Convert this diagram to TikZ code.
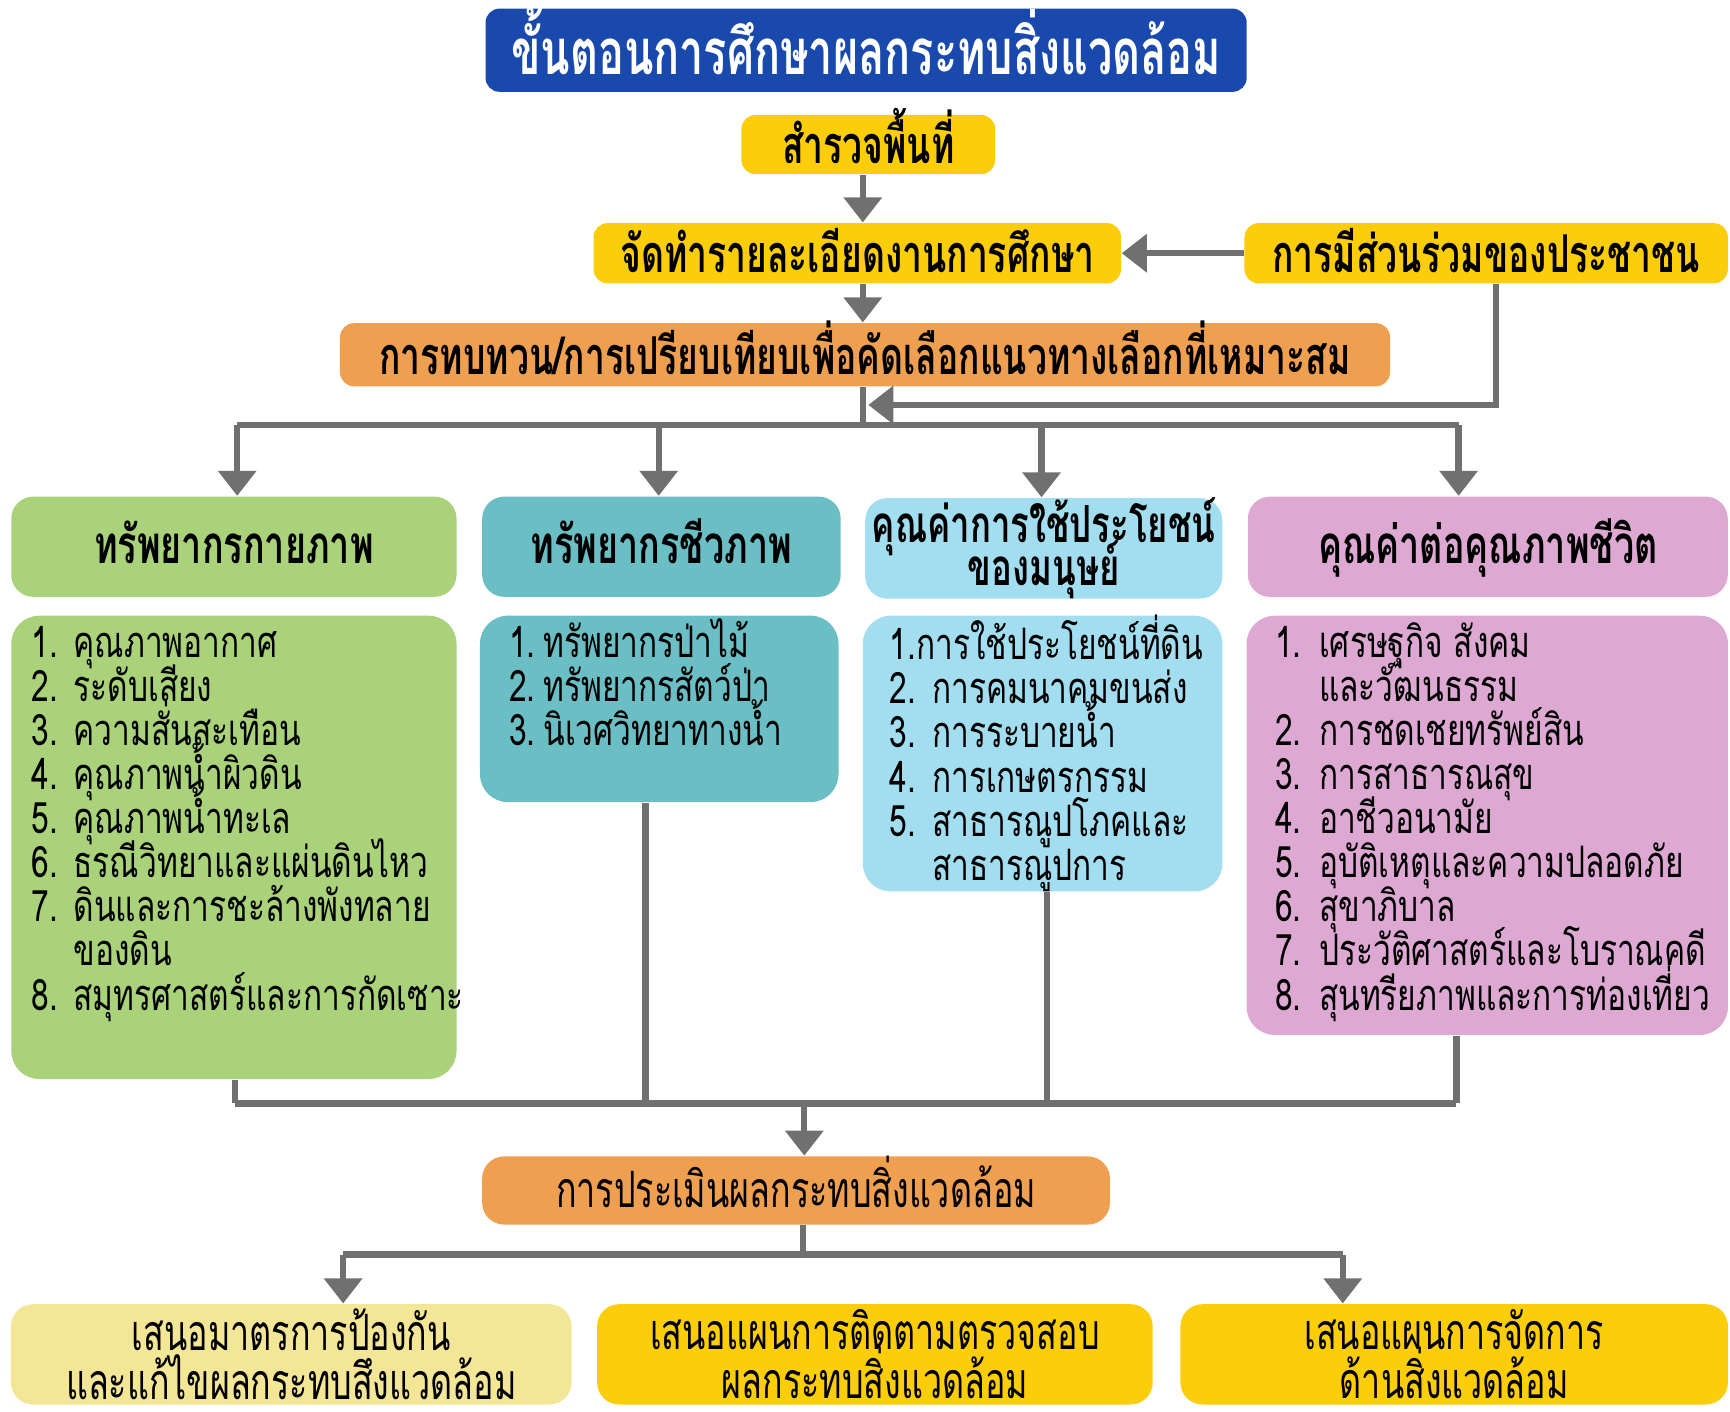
\documentclass[tikz,border=0pt]{standalone}
\usepackage{fontspec}
\setmainfont{Loma}[Script=Thai, FakeStretch=0.73]
\newfontfamily\narrowfont{Loma}[Script=Thai, FakeStretch=0.68]
\usepackage{xcolor}
\usetikzlibrary{arrows.meta}

\definecolor{titleblue}{HTML}{1A49AD}
\definecolor{stepyellow}{HTML}{FCCD0A}
\definecolor{steporange}{HTML}{EE9F4F}
\definecolor{physgreen}{HTML}{A9D27B}
\definecolor{bioteal}{HTML}{6ABEC4}
\definecolor{humanblue}{HTML}{A3DDF0}
\definecolor{lifepink}{HTML}{DDA9D3}
\definecolor{paleyellow}{HTML}{F3E696}
\definecolor{linegray}{HTML}{707070}

\newcommand{\num}[1]{\makebox[#1][l]}
\newcommand{\firstline}{\rule{0pt}{12pt}}
\newcommand{\tightlines}{\setlength{\lineskiplimit}{-30pt}}

\tikzset{
  oneline/.style={text height=0.95em, text depth=0pt},
  stepbox/.style={rounded corners=0.14cm, align=center, inner sep=0pt,
    text height=1.1em, text depth=0pt,
    font=\narrowfont\bfseries\fontsize{14.8}{16}\selectfont},
  headbox/.style={rounded corners=0.22cm, align=center, inner sep=0pt, minimum height=1cm,
    font=\narrowfont\bfseries\fontsize{15}{13}\selectfont\tightlines},
  listbox/.style={rounded corners=0.28cm, inner sep=0pt},
  listtext/.style={anchor=north west, inner sep=0pt, align=left,
    font=\fontsize{12.3}{12.5}\selectfont\tightlines},
  endbox/.style={rounded corners=0.22cm, align=center, inner sep=0pt, minimum height=1cm,
    font=\narrowfont\fontsize{14.2}{14}\selectfont\tightlines},
  link/.style={draw=linegray, line width=1.8pt},
  arr/.style={link, -{Triangle[width=0.37cm,length=0.25cm]}},
}

\begin{document}
\begin{tikzpicture}[x=0.011cm, y=0.011cm]
\useasboundingbox (0,0) rectangle (1568,-1279);

% Top boxes
\node[stepbox, fill=titleblue, text=white, font=\narrowfont\bfseries\fontsize{18}{20}\selectfont,
  text height=1.35em, minimum width=7.59cm, minimum height=0.83cm] (title) at (785,-45.5) {ขั้นตอนการศึกษาผลกระทบสิ่งแวดล้อม};
\node[stepbox, fill=stepyellow, minimum width=2.53cm, minimum height=0.59cm] (survey) at (787,-131) {สำรวจพื้นที่};
\node[stepbox, fill=stepyellow, minimum width=5.26cm, minimum height=0.6cm] (tor) at (777,-229.5) {จัดทำรายละเอียดงานการศึกษา};
\node[stepbox, fill=stepyellow, minimum width=4.82cm, minimum height=0.6cm] (public) at (1347,-229.5) {การมีส่วนร่วมของประชาชน};
\node[stepbox, fill=steporange, minimum width=10.47cm, minimum height=0.63cm] (review) at (784,-321.5) {การทบทวน/การเปรียบเทียบเพื่อคัดเลือกแนวทางเลือกที่เหมาะสม};

% Headers
\node[headbox, oneline, fill=physgreen, minimum width=4.44cm] (phys) at (212,-495.5) {ทรัพยากรกายภาพ};
\node[headbox, oneline, fill=bioteal, minimum width=3.575cm] (bio) at (599.5,-495.5) {ทรัพยากรชีวภาพ};
\node[headbox, fill=humanblue, minimum width=3.56cm,
  font=\narrowfont\bfseries\fontsize{14.5}{12}\selectfont\tightlines] (human) at (946,-497) {คุณค่าการใช้ประโยชน์\\ของมนุษย์};
\node[headbox, oneline, fill=lifepink, minimum width=4.785cm] (life) at (1348.5,-495.5) {คุณค่าต่อคุณภาพชีวิต};

% List boxes
\node[listbox, fill=physgreen, minimum width=4.44cm, minimum height=4.62cm] (physL) at (212,-768) {};
\node[listbox, fill=bioteal, minimum width=3.575cm, minimum height=1.86cm] (bioL) at (597.5,-642.5) {};
\node[listbox, fill=humanblue, minimum width=3.586cm, minimum height=2.75cm] (humanL) at (945,-683) {};
\node[listbox, fill=lifepink, minimum width=4.8cm, minimum height=4.18cm] (lifeL) at (1348,-748) {};

% List texts
\node[listtext] (physT) at (28,-557) {\firstline\num{0.42cm}{1.}คุณภาพอากาศ\\
\num{0.42cm}{2.}ระดับเสียง\\
\num{0.42cm}{3.}ความสั่นสะเทือน\\
\num{0.42cm}{4.}คุณภาพน้ำผิวดิน\\
\num{0.42cm}{5.}คุณภาพน้ำทะเล\\
\num{0.42cm}{6.}ธรณีวิทยาและแผ่นดินไหว\\
\num{0.42cm}{7.}ดินและการชะล้างพังทลาย\\
\num{0.42cm}{}ของดิน\\
\num{0.42cm}{8.}สมุทรศาสตร์และการกัดเซาะ};
\node[listtext] (bioT) at (461,-557) {\firstline\num{0.34cm}{1.}ทรัพยากรป่าไม้\\
\num{0.34cm}{2.}ทรัพยากรสัตว์ป่า\\
\num{0.34cm}{3.}นิเวศวิทยาทางน้ำ};
\node[listtext] (humanT) at (806,-557) {\firstline 1.การใช้ประโยชน์ที่ดิน\\
\num{0.42cm}{2.}การคมนาคมขนส่ง\\
\num{0.42cm}{3.}การระบายน้ำ\\
\num{0.42cm}{4.}การเกษตรกรรม\\
\num{0.42cm}{5.}สาธารณูปโภคและ\\
\num{0.42cm}{}สาธารณูปการ};
\node[listtext] (lifeT) at (1155,-557) {\firstline\num{0.44cm}{1.}เศรษฐกิจ สังคม\\
\num{0.44cm}{}และวัฒนธรรม\\
\num{0.44cm}{2.}การชดเชยทรัพย์สิน\\
\num{0.44cm}{3.}การสาธารณสุข\\
\num{0.44cm}{4.}อาชีวอนามัย\\
\num{0.44cm}{5.}อุบัติเหตุและความปลอดภัย\\
\num{0.44cm}{6.}สุขาภิบาล\\
\num{0.44cm}{7.}ประวัติศาสตร์และโบราณคดี\\
\num{0.44cm}{8.}สุนทรียภาพและการท่องเที่ยว};

% Bottom boxes
\node[endbox, oneline, fill=steporange, minimum width=6.26cm, minimum height=0.68cm] (eia) at (721.5,-1079) {การประเมินผลกระทบสิ่งแวดล้อม};
\node[endbox, fill=paleyellow, minimum width=5.59cm] (prevent) at (264,-1227.5) {เสนอมาตรการป้องกัน\\และแก้ไขผลกระทบสึงแวดล้อม};
\node[endbox, fill=stepyellow, minimum width=5.54cm] (monitor) at (793,-1227.5) {เสนอแผนการติดตามตรวจสอบ\\ผลกระทบสิ่งแวดล้อม};
\node[endbox, fill=stepyellow, minimum width=5.46cm] (manage) at (1318,-1227.5) {เสนอแผนการจัดการ\\ด้านสิ่งแวดล้อม};

% Points on the lines
\coordinate (ax) at (782,-200);    % main axis
\coordinate (fb) at (1356,-367);   % feedback corner
\coordinate (fe) at (787,-367);    % feedback end
\coordinate (s0) at (782,-385);    % split point
\coordinate (s1) at (215,-385);    % split to headers
\coordinate (s2) at (597,-385);
\coordinate (s3) at (944,-385);
\coordinate (s4) at (1322,-385);
\coordinate (m1) at (213,-1000);   % merge from lists
\coordinate (m2) at (585,-1000);
\coordinate (m3) at (949,-1000);
\coordinate (m4) at (1320,-1000);
\coordinate (m0) at (729,-1000);
\coordinate (e0) at (728,-1137);   % split to proposals
\coordinate (e1) at (311,-1137);
\coordinate (e2) at (1217,-1137);

% Arrows at the top
\draw[arr] (survey.south -| ax) -- (tor.north -| ax);
\draw[arr] (public.west) -- (tor.east);
\draw[arr] (tor.south -| ax) -- (review.north -| ax);
\draw[arr] (fb |- public.south) -- (fb) -- (fe);

% Split to the four groups
\draw[link] (review.south -| s0) -- (s0);
\draw[link] (s1) -- (s4);
\foreach \s/\n in {s1/phys,s2/bio,s3/human,s4/life}
  \draw[arr] (\s) -- (\s |- \n.north);

% Merge to the assessment
\foreach \m/\n in {m1/physL,m2/bioL,m3/humanL,m4/lifeL}
  \draw[link] (\m |- \n.south) -- (\m);
\draw[link] (m1) -- (m4);
\draw[arr] (m0) -- (m0 |- eia.north);

% Split to the proposals
\draw[link] (e0 |- eia.south) -- (e0);
\draw[link] (e1) -- (e2);
\draw[arr] (e1) -- (e1 |- prevent.north);
\draw[arr] (e2) -- (e2 |- manage.north);

\end{tikzpicture}
\end{document}
